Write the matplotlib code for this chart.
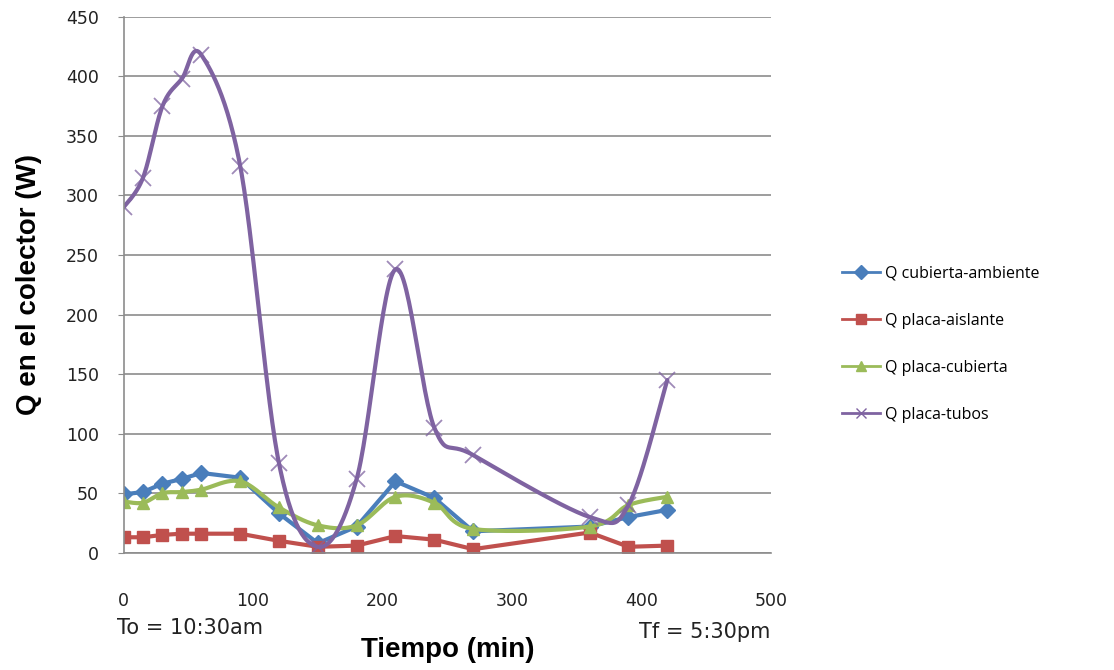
import matplotlib
matplotlib.use("Agg")
import matplotlib.pyplot as plt
import numpy as np

plt.rcParams['font.family'] = ['DejaVu Sans']

tiempo = [0, 15, 30, 45, 60, 90, 120, 150, 180, 210, 240, 270, 360, 390, 420]
q_cubierta_ambiente = [49, 51, 58, 62, 67, 63, 33, 8, 22, 60, 46, 18, 22, 30, 36]
q_placa_aislante = [13, 13, 15, 16, 16, 16, 10, 5, 6, 14, 11, 3, 17, 5, 6]
q_placa_cubierta = [43, 42, 50, 51, 53, 60, 38, 23, 23, 47, 42, 20, 22, 40, 47]
q_placa_tubos = [290, 315, 375, 398, 418, 325, 75, 5, 62, 238, 105, 82, 30, 40, 145]

etiquetas = ["Q cubierta-ambiente", "Q placa-aislante", "Q placa-cubierta", "Q placa-tubos"]
colores = ["#4A7EBB", "#C0504D", "#9BBB59", "#7F63A1"]
marcadores = ["D", "s", "^", "x"]
suave = [False, False, True, True]


def suavizar(x, y, n=30):
    # Excel-like smoothed line (cardinal spline through the points)
    x = np.asarray(x, float)
    y = np.asarray(y, float)
    px = np.concatenate([[x[0]], x, [x[-1]]])
    py = np.concatenate([[y[0]], y, [y[-1]]])
    xs, ys = [], []
    t = np.linspace(0, 1, n)
    for i in range(1, len(px) - 2):
        p0, p1, p2, p3 = (np.array([px[j], py[j]]) for j in range(i - 1, i + 3))
        c1 = p1 + (p2 - p0) / 6
        c2 = p2 - (p3 - p1) / 6
        pts = ((1 - t) ** 3)[:, None] * p1 + (3 * (1 - t) ** 2 * t)[:, None] * c1 \
            + (3 * (1 - t) * t ** 2)[:, None] * c2 + (t ** 3)[:, None] * p2
        xs.extend(pts[:, 0])
        ys.extend(pts[:, 1])
    return xs, ys


fig = plt.figure(figsize=(11.14, 6.7), dpi=100)
ax = fig.add_axes([0.111, 0.175, 0.581, 0.80])

series = [q_cubierta_ambiente, q_placa_aislante, q_placa_cubierta, q_placa_tubos]
for vals, lab, col, mk, sv in zip(series, etiquetas, colores, marcadores, suave):
    if sv:
        sx, sy = suavizar(tiempo, vals)
    else:
        sx, sy = tiempo, vals
    ax.plot(sx, sy, color=col, lw=3, solid_capstyle='round', solid_joinstyle='round')
    ms = 11 if mk == "x" else 8.5
    ax.plot(tiempo, vals, linestyle='none', marker=mk, color=col, ms=ms,
            mew=1.3 if mk == "x" else 1, alpha=0.75 if mk == "x" else 1)
    ax.plot([], [], color=col, lw=2, marker=mk, ms=7, label=lab)

ax.set_xlim(0, 500)
ax.set_ylim(0, 450)
ax.set_xticks(range(0, 501, 100))
ax.set_yticks(range(0, 451, 50))
ax.grid(axis='y', color='#8C8C8C', lw=1.2)
ax.set_axisbelow(True)
for s in ['top', 'right']:
    ax.spines[s].set_visible(False)
for s in ['left', 'bottom']:
    ax.spines[s].set_color('#8C8C8C')
    ax.spines[s].set_linewidth(1.2)
ax.tick_params(axis='both', colors='#8C8C8C', labelcolor='#222222', labelsize=12.5, length=4)
ax.tick_params(axis='x', pad=28, length=0)
ax.tick_params(axis='y', pad=14)

ax.set_ylabel("Q en el colector (W)", fontsize=20, fontweight='bold',
              family=['Liberation Sans', 'DejaVu Sans'], labelpad=17)
ax.set_xlabel("Tiempo (min)", fontsize=20, fontweight='bold',
              family=['Liberation Sans', 'DejaVu Sans'], labelpad=20)

fig.text(0.105, 0.062, "To = 10:30am", fontsize=15, ha='left', va='center', color='#222222')
fig.text(0.574, 0.056, "Tf = 5:30pm", fontsize=15, ha='left', va='center', color='#222222')

leg = fig.legend(loc='upper left', bbox_to_anchor=(0.743, 0.625), frameon=False,
                 handlelength=2.4, labelspacing=1.95, handletextpad=0.3,
                 prop={'family': ['Open Sans', 'DejaVu Sans'], 'size': 11.5})

fig.savefig("out.png", dpi=100)
